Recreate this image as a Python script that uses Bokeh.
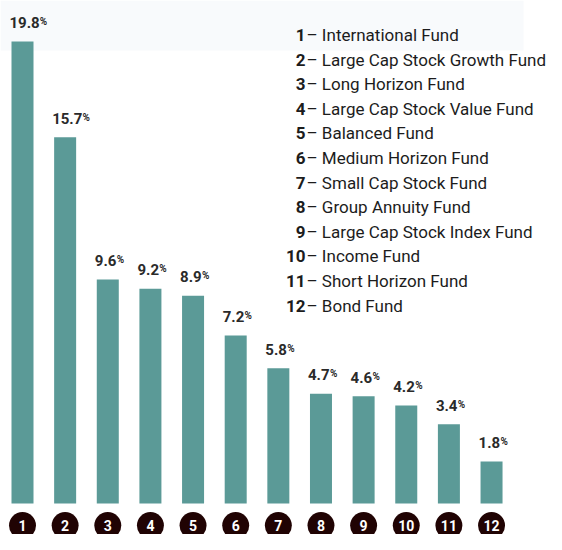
from bokeh.plotting import figure
from bokeh.models import Range1d, ColumnDataSource
from bokeh.core.properties import value
from bokeh.embed import file_html
from bokeh.resources import INLINE

# ---- data ----
fund_numbers = ["1", "2", "3", "4", "5", "6", "7", "8", "9", "10", "11", "12"]
fund_names = [
    "International Fund",
    "Large Cap Stock Growth Fund",
    "Long Horizon Fund",
    "Large Cap Stock Value Fund",
    "Balanced Fund",
    "Medium Horizon Fund",
    "Small Cap Stock Fund",
    "Group Annuity Fund",
    "Large Cap Stock Index Fund",
    "Income Fund",
    "Short Horizon Fund",
    "Bond Fund",
]
returns_pct = [19.8, 15.7, 9.6, 9.2, 8.9, 7.2, 5.8, 4.7, 4.6, 4.2, 3.4, 1.8]

# ---- layout constants (pixels) ----
W, H = 546, 534
SLOT = 42.64        # px between bar centres
X0 = 22             # px of first bar centre
BASE = 503          # px from top of the bars' baseline
K = 23.33           # px per percentage point
BAR_PX = 22

FONT = "Roboto"
BAR_COLOR = "#5b9a97"
DARK = "#2a2a2a"
CIRCLE = "#200303"

x_start = 1 - X0 / SLOT
x_end = x_start + W / SLOT
y_start = -(H - BASE) / K
y_end = BASE / K


def y_of(py):
    return (BASE - py) / K


def x_of(px):
    return x_start + px / SLOT


p = figure(width=W, height=H, output_backend="svg", toolbar_location=None,
           x_range=Range1d(x_start, x_end), y_range=Range1d(y_start, y_end),
           min_border=0, outline_line_color=None, background_fill_color="white",
           border_fill_color="white")
p.axis.visible = False
p.grid.visible = False

# faint band at the top of the scan
p.quad(left=[x_start], right=[x_of(523)], top=[y_end], bottom=[y_of(50)],
       fill_color="#f8fafc", line_color=None)

xs = list(range(1, len(returns_pct) + 1))
labels = [f"{v:.1f}" for v in returns_pct]
fs_lab = 15
num_w = [sum(0.27 * fs_lab if ch == "." else 0.5615 * fs_lab for ch in s) for s in labels]
src = ColumnDataSource(dict(
    x=xs,
    xl=[x - (BAR_PX / SLOT) / 2 for x in xs],
    v=returns_pct,
    lab=labels,
    pct=["%"] * len(xs),
    pct_off=[w - 1 for w in num_w],
    num=fund_numbers,
))

p.vbar(x="x", top="v", bottom=0, width=BAR_PX / SLOT, source=src,
       fill_color=BAR_COLOR, line_color=None)

p.text(x="xl", y="v", text="lab", source=src, x_offset=-2, y_offset=-19,
       text_align="left", text_baseline="alphabetic",
       text_font=value(FONT), text_font_style="bold",
       text_font_size=f"{fs_lab}px", text_color=DARK)
p.text(x="xl", y="v", text="pct", source=src, x_offset="pct_off", y_offset=-20,
       text_align="left", text_baseline="alphabetic",
       text_font=value(FONT), text_font_style="bold",
       text_font_size="10px", text_color=DARK)

# numbered circles under the bars
cy = y_of(525)
p.scatter(x="x", y=cy, size=27, source=src, fill_color=CIRCLE, line_color=None)
p.text(x="x", y=cy, text="num", source=src, text_align="center",
       text_baseline="middle", text_font=value(FONT), text_font_style="bold",
       text_font_size="14px", text_color="white")

# key list
leg = ColumnDataSource(dict(
    x=[x_of(305)] * len(fund_names),
    x2=[x_of(306)] * len(fund_names),
    y=[y_of(34.5 + i * 24.6) for i in range(len(fund_names))],
    num=fund_numbers,
    name=["\u2013 " + n for n in fund_names],
))
p.text(x="x", y="y", text="num", source=leg, text_align="right",
       text_baseline="alphabetic", text_font=value(FONT),
       text_font_style="bold", text_font_size="17px", text_color="#1c1c1c")
p.text(x="x2", y="y", text="name", source=leg, text_align="left",
       text_baseline="alphabetic", text_font=value(FONT),
       text_font_size="17px", text_color="#1c1c1c")

open("out.html", "w").write(file_html(p, INLINE))
